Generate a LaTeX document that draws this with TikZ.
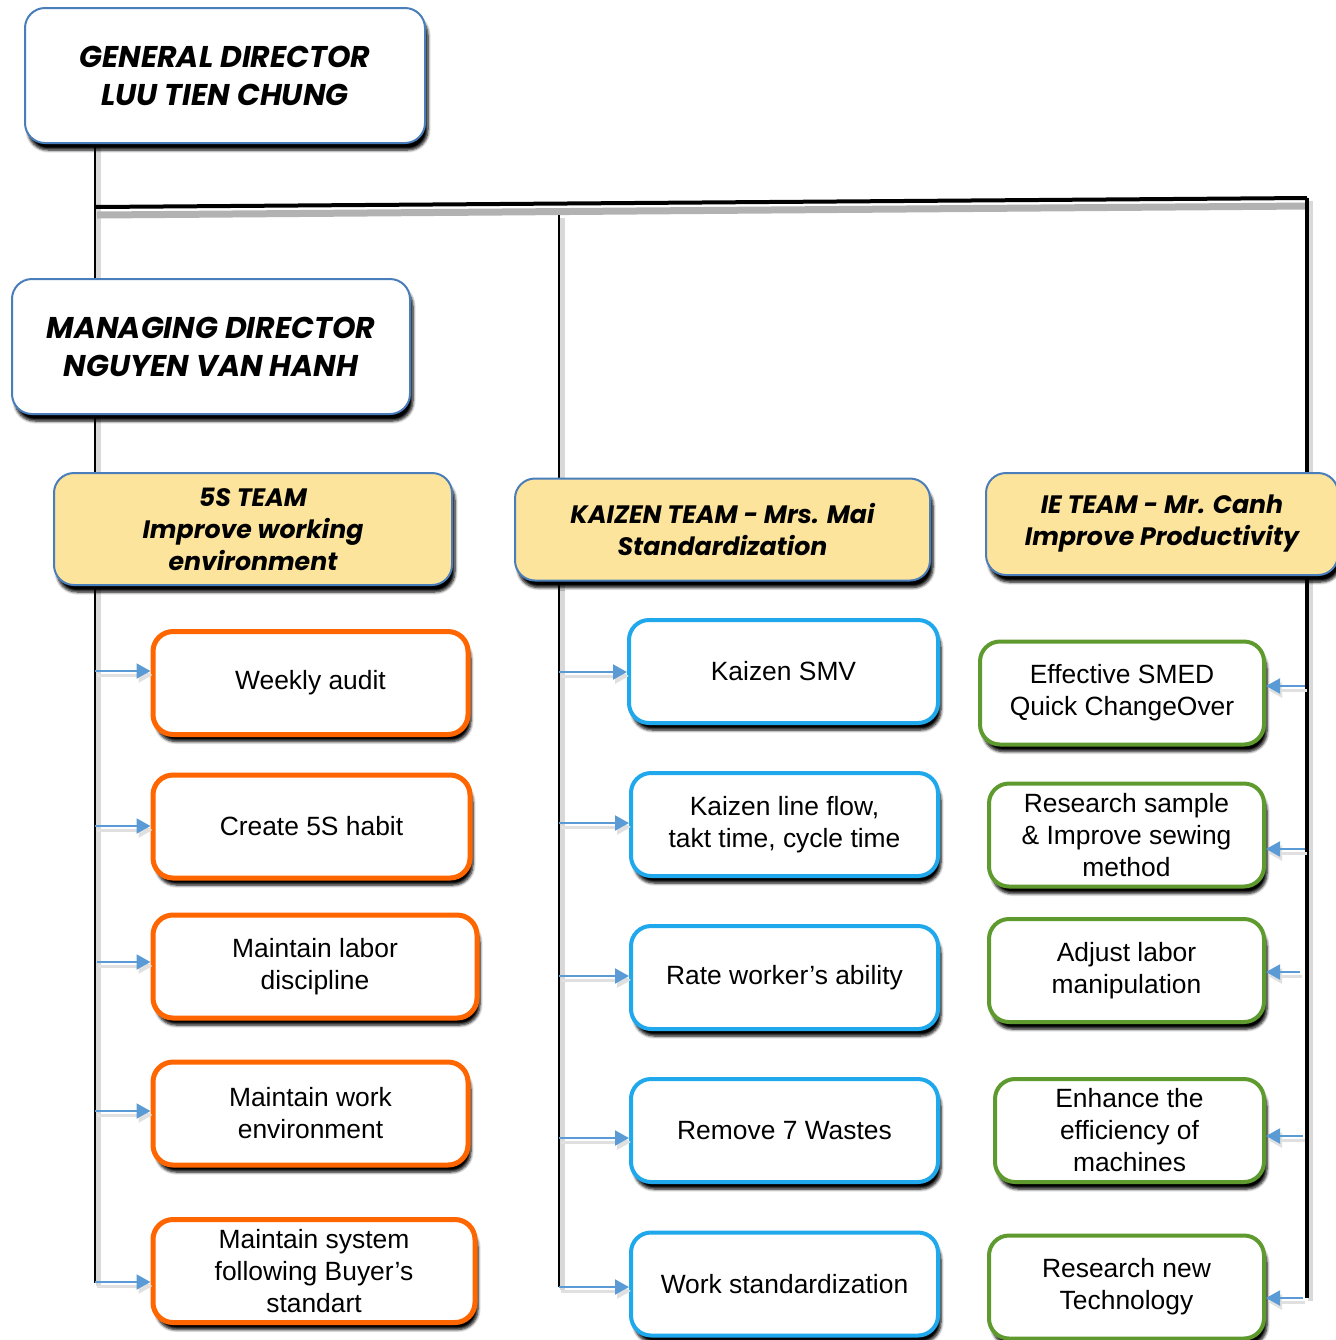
\documentclass[tikz,border=0pt]{standalone}
\usepackage{fontspec}
\setmainfont{Liberation Sans}
\newfontfamily\headfont{Poppins}
\usetikzlibrary{arrows.meta, shadows.blur, backgrounds}

\definecolor{leadline}{HTML}{4A7EBB}
\definecolor{teamfill}{HTML}{FCE49C}
\definecolor{fivesline}{HTML}{FF6600}
\definecolor{kaizenline}{HTML}{1FA8EC}
\definecolor{ieline}{HTML}{5E9A2E}
\definecolor{feedline}{HTML}{5B9BD5}

\tikzset{
  darkshade/.style={blur shadow={shadow xshift=1.5pt, shadow yshift=-3.5pt,
                    shadow blur radius=1.4pt, shadow blur steps=6,
                    shadow opacity=100}}
}

\begin{document}
\begin{tikzpicture}[x=0.5pt, y=-0.5pt,
  boss/.style={draw=leadline, line width=1pt, fill=white, rounded corners=10pt,
               align=center, minimum height=67.5pt, darkshade,
               font=\headfont\bfseries\itshape\fontsize{15}{19}\selectfont},
  team/.style={boss, fill=teamfill, minimum height=51pt,
               font=\headfont\bfseries\itshape\fontsize{12.6}{16}\selectfont},
  task/.style={draw, line width=2pt, fill=white, rounded corners=10pt,
               align=center, minimum height=51.5pt, darkshade,
               font=\fontsize{13.2}{16}\selectfont},
  fives/.style={task, draw=fivesline, line width=2.5pt},
  kaizen/.style={task, draw=kaizenline},
  ie/.style={task, draw=ieline},
  spine/.style={line width=1pt,
                preaction={draw=black!15, line width=2.5pt,
                           transform canvas={xshift=1.5pt, yshift=-1.5pt}}},
  bar/.style={line width=2pt,
              preaction={draw=black!30, line width=3.5pt,
                         transform canvas={xshift=1pt, yshift=-4pt}}},
  feed/.style={draw=feedline, line width=1pt,
               -{Triangle[length=7pt, width=7.5pt]},
               preaction={draw=black!12, line width=1.5pt,
                          transform canvas={xshift=1pt, yshift=-2pt}}}]
\useasboundingbox (0,0) rectangle (1336,1340);

% directors
\node[boss, minimum width=200pt] (gd) at (225,75.5)
  {GENERAL DIRECTOR\\LUU TIEN CHUNG};
\node[boss, minimum width=199pt] (md) at (211,346.5)
  {MANAGING DIRECTOR\\NGUYEN VAN HANH};

% teams
\node[team, minimum width=199pt, minimum height=56pt] (fives) at (253,529)
  {5S TEAM\\Improve working\\environment};
\node[team, minimum width=207.5pt] (kaizen) at (722.5,529.5)
  {KAIZEN TEAM - Mrs. Mai\\Standardization};
\node[team, minimum width=176pt] (ie) at (1162,524)
  {IE TEAM - Mr. Canh\\Improve Productivity};

% 5S tasks
\node[fives, minimum width=157.5pt] (o1) at (310.5,683) {Weekly audit};
\node[fives, minimum width=158.5pt] (o2) at (311.5,826.5) {Create 5S habit};
\node[fives, minimum width=162pt] (o3) at (315,966.5) {Maintain labor\\discipline};
\node[fives, minimum width=157.5pt] (o4) at (310.5,1113.5) {Maintain work\\environment};
\node[fives, minimum width=161pt] (o5) at (314,1271) {Maintain system\\following Buyer’s\\standart};

% kaizen tasks
\node[kaizen, minimum width=154.5pt] (b1) at (783.5,671.5) {Kaizen SMV};
\node[kaizen, minimum width=153.5pt] (b2) at (784.5,824.5) {Kaizen line flow,\\takt time, cycle time};
\node[kaizen, minimum width=153.5pt] (b3) at (784.5,977.5) {Rate worker’s ability};
\node[kaizen, minimum width=153.5pt] (b4) at (784.5,1130.5) {Remove 7 Wastes};
\node[kaizen, minimum width=153.5pt] (b5) at (784.5,1284) {Work standardization};

% IE tasks
\node[ie, minimum width=142pt] (g1) at (1122,693) {Effective SMED\\Quick ChangeOver};
\node[ie, minimum width=137.5pt] (g2) at (1126.5,835) {Research sample\\\& Improve sewing\\method};
\node[ie, minimum width=137.5pt] (g3) at (1126.5,970.5) {Adjust labor\\manipulation};
\node[ie, minimum width=134.5pt] (g4) at (1129.5,1130.5) {Enhance the\\efficiency of\\machines};
\node[ie, minimum width=137.5pt] (g5) at (1126.5,1287) {Research new\\Technology};

% spines
\coordinate (lBot) at (95,1283);
\coordinate (hL) at (95,207);
\coordinate (hR) at (1307,198);
\coordinate (rBot) at (1307,1298);
\coordinate (mTop) at (559,215);
\coordinate (mBot) at (559,1287);

\begin{scope}[on background layer]
\draw[spine] (gd.south -| lBot) -- (lBot);
\draw[bar] (hL) -- (hR);
\draw[spine, line width=2pt] (hR) -- (rBot);
\draw[spine] (mTop) -- (mBot);
\end{scope}

% feeds into tasks
\coordinate (l1) at (95,671);
\coordinate (l2) at (95,826);
\coordinate (l3) at (97,962);
\coordinate (l4) at (95,1111);
\coordinate (l5) at (95,1282);
\draw[feed] (l1) -- (l1 -| o1.west);
\draw[feed] (l2) -- (l2 -| o2.west);
\draw[feed] (l3) -- (l3 -| o3.west);
\draw[feed] (l4) -- (l4 -| o4.west);
\draw[feed] (l5) -- (l5 -| o5.west);

\coordinate (m1) at (559,672);
\coordinate (m2) at (559,823);
\coordinate (m3) at (559,976);
\coordinate (m4) at (559,1138);
\coordinate (m5) at (559,1287);
\draw[feed] (m1) -- (m1 -| b1.west);
\draw[feed] (m2) -- (m2 -| b2.west);
\draw[feed] (m3) -- (m3 -| b3.west);
\draw[feed] (m4) -- (m4 -| b4.west);
\draw[feed] (m5) -- (m5 -| b5.west);

\coordinate (r1) at (1305,686);
\coordinate (r2) at (1305,849);
\coordinate (r3) at (1300,972);
\coordinate (r4) at (1303,1136);
\coordinate (r5) at (1303,1298);
\draw[feed] (r1) -- (r1 -| g1.east);
\draw[feed] (r2) -- (r2 -| g2.east);
\draw[feed] (r3) -- (r3 -| g3.east);
\draw[feed] (r4) -- (r4 -| g4.east);
\draw[feed] (r5) -- (r5 -| g5.east);
\end{tikzpicture}
\end{document}
